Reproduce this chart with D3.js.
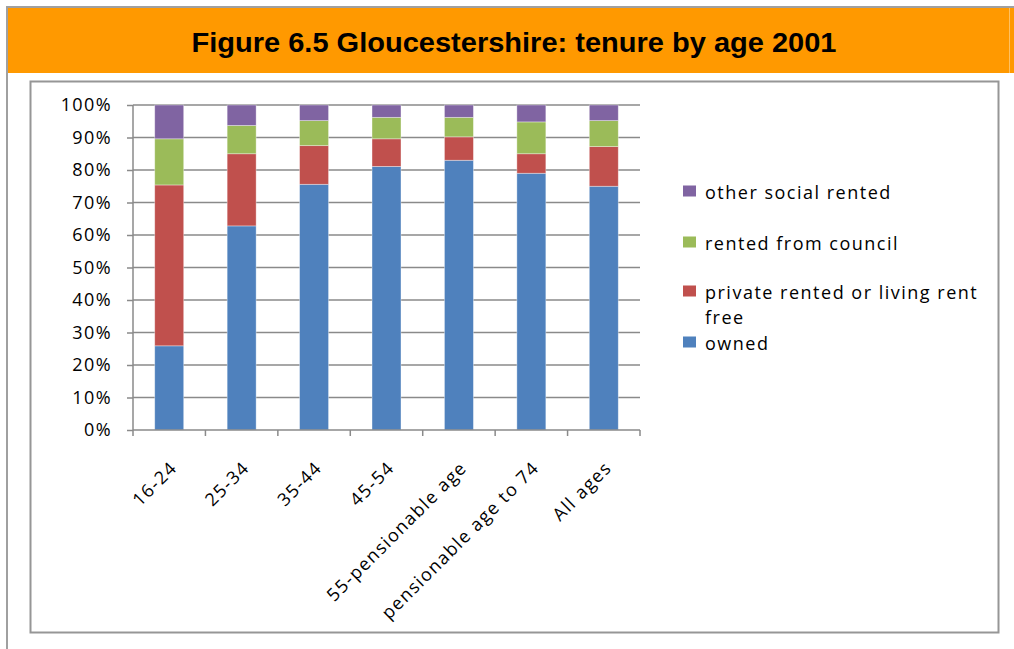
<!DOCTYPE html>
<html>
<head>
<meta charset="utf-8">
<script src="https://cdn.jsdelivr.net/npm/d3@7"></script>
<style>
  body { margin: 0; background: #fff; }
  text { font-family: "Open Sans", sans-serif; fill: #000; }
</style>
</head>
<body>
<svg id="chart"></svg>
<script>
// tenure by age, values in percent
var categories = ["16-24", "25-34", "35-44", "45-54", "55-pensionable age", "pensionable age to 74", "All ages"]
var owned = [25.9, 62.8, 75.6, 81.1, 83.0, 79.0, 75.0]
var privateRented = [49.5, 22.2, 11.9, 8.5, 7.2, 6.0, 12.2]
var council = [14.2, 8.7, 7.7, 6.6, 6.0, 9.8, 8.0]
var otherSocial = [10.4, 6.3, 4.8, 3.8, 3.8, 5.2, 4.8]
var yTicks = [0, 10, 20, 30, 40, 50, 60, 70, 80, 90, 100]
var seriesNames = ["owned", "private rented or living rent free", "rented from council", "other social rented"]
var seriesKeys = ["owned", "privateRented", "council", "otherSocial"]
var seriesColors = ["#4f81bd", "#c0504d", "#9bbb59", "#8064a2"]
var titleText = "Figure 6.5 Gloucestershire: tenure by age 2001"

var width = 1014
var height = 649

var svg = d3.select("#chart")
    .attr("width", width)
    .attr("height", height)

// page frame and orange banner
svg.append("rect").attr("x", 6).attr("y", 6).attr("width", width - 6).attr("height", 2).attr("fill", "#a0a0a0")
svg.append("rect").attr("x", 6).attr("y", 6).attr("width", 2).attr("height", height - 6).attr("fill", "#a0a0a0")
svg.append("rect").attr("x", 8).attr("y", 8).attr("width", width - 8).attr("height", 65).attr("fill", "#ff9900")
svg.append("rect").attr("x", 1009).attr("y", 8).attr("width", 1).attr("height", 65).attr("fill", "#ffc060")

svg.append("text")
    .attr("x", 514)
    .attr("y", 52)
    .attr("text-anchor", "middle")
    .attr("textLength", 645)
    .attr("lengthAdjust", "spacingAndGlyphs")
    .style("font-family", "'Liberation Sans', Arial, sans-serif")
    .style("font-weight", "bold")
    .style("font-size", "27px")
    .text(titleText)

// chart area box
svg.append("rect")
    .attr("x", 30.5).attr("y", 81.5)
    .attr("width", 968).attr("height", 551)
    .attr("fill", "#fff")
    .attr("stroke", "#969696")
    .attr("stroke-width", 2)

var plot = {left: 133, right: 640, top: 105, bottom: 430}

var x = d3.scaleBand()
    .domain(categories)
    .range([plot.left, plot.right])
    .paddingInner(0.6)
    .paddingOuter(0.3)

var xEdge = d3.scaleLinear()
    .domain([0, categories.length])
    .range([plot.left, plot.right])

var y = d3.scaleLinear()
    .domain([0, 100])
    .range([plot.bottom, plot.top])

var g = svg.append("g")

// gridlines
g.append("g")
    .selectAll("line")
    .data(yTicks.slice(1))
    .join("line")
    .attr("x1", plot.left)
    .attr("x2", plot.right)
    .attr("y1", function(d) { return y(d) })
    .attr("y2", function(d) { return y(d) })
    .attr("stroke", "#8a8a8a")
    .attr("stroke-width", 1.5)

// stacked bars
var rows = categories.map(function(c, i) {
    return {cat: c, owned: owned[i], privateRented: privateRented[i], council: council[i], otherSocial: otherSocial[i]}
})
var stacked = d3.stack().keys(seriesKeys)(rows)

g.append("g")
    .selectAll("g")
    .data(stacked)
    .join("g")
    .attr("fill", function(d, i) { return seriesColors[i] })
    .selectAll("rect")
    .data(function(d) { return d })
    .join("rect")
    .attr("x", function(d) { return x(d.data.cat) })
    .attr("width", x.bandwidth())
    .attr("y", function(d) { return y(d[1]) })
    .attr("height", function(d) { return y(d[0]) - y(d[1]) })
    .attr("stroke", "#fff")
    .attr("stroke-opacity", 0.45)
    .attr("stroke-width", 0.8)

// y axis
var yAxis = g.append("g")
    .attr("transform", "translate(" + plot.left + ",0)")
    .call(d3.axisLeft(y).tickValues(yTicks).tickSize(6).tickPadding(15)
        .tickFormat(function(d) { return d + "%" }))
yAxis.select(".domain").attr("stroke", "#8a8a8a").attr("stroke-width", 1.5)
    .attr("d", "M0," + plot.bottom + "V" + plot.top)
yAxis.selectAll(".tick line").attr("stroke", "#8a8a8a").attr("stroke-width", 1.5)
yAxis.selectAll(".tick text")
    .style("font-family", "'Open Sans', sans-serif")
    .style("font-size", "18px")
    .style("letter-spacing", "1.4px")
    .attr("fill", "#000")

// x axis with ticks at category edges
var xAxis = g.append("g")
    .attr("transform", "translate(0," + plot.bottom + ")")
xAxis.append("line")
    .attr("x1", plot.left).attr("x2", plot.right)
    .attr("stroke", "#8a8a8a").attr("stroke-width", 1.5)
xAxis.selectAll(".edge")
    .data(d3.range(categories.length + 1))
    .join("line")
    .attr("class", "edge")
    .attr("x1", function(d) { return xEdge(d) })
    .attr("x2", function(d) { return xEdge(d) })
    .attr("y1", 0).attr("y2", 6)
    .attr("stroke", "#8a8a8a").attr("stroke-width", 1.5)
xAxis.selectAll(".lab")
    .data(categories)
    .join("text")
    .attr("class", "lab")
    .attr("transform", function(d) {
        return "translate(" + (x(d) + x.bandwidth() / 2 + 9) + ",39) rotate(-45)"
    })
    .attr("text-anchor", "end")
    .style("font-size", "18px")
    .style("letter-spacing", "1.4px")
    .text(function(d) { return d })

// legend, top entry first
var legend = svg.append("g").attr("transform", "translate(683,0)")
var legendRows = [
    {i: 3, y: 191, lines: ["other social rented"]},
    {i: 2, y: 242, lines: ["rented from council"]},
    {i: 1, y: 291, lines: ["private rented or living rent", "free"]},
    {i: 0, y: 342, lines: ["owned"]}
]
var item = legend.selectAll("g")
    .data(legendRows)
    .join("g")
    .attr("transform", function(d) { return "translate(0," + d.y + ")" })
item.append("rect")
    .attr("x", 0).attr("y", -5.5)
    .attr("width", 13).attr("height", 11)
    .attr("fill", function(d) { return seriesColors[d.i] })
item.each(function(d) {
    var t = d3.select(this).append("text")
        .attr("x", 22)
        .attr("y", 7.5)
        .style("font-size", "18px")
        .style("letter-spacing", "1.5px")
    d.lines.forEach(function(line, k) {
        t.append("tspan").attr("x", 22).attr("dy", k == 0 ? 0 : 25).text(line)
    })
})
</script>
</body>
</html>
